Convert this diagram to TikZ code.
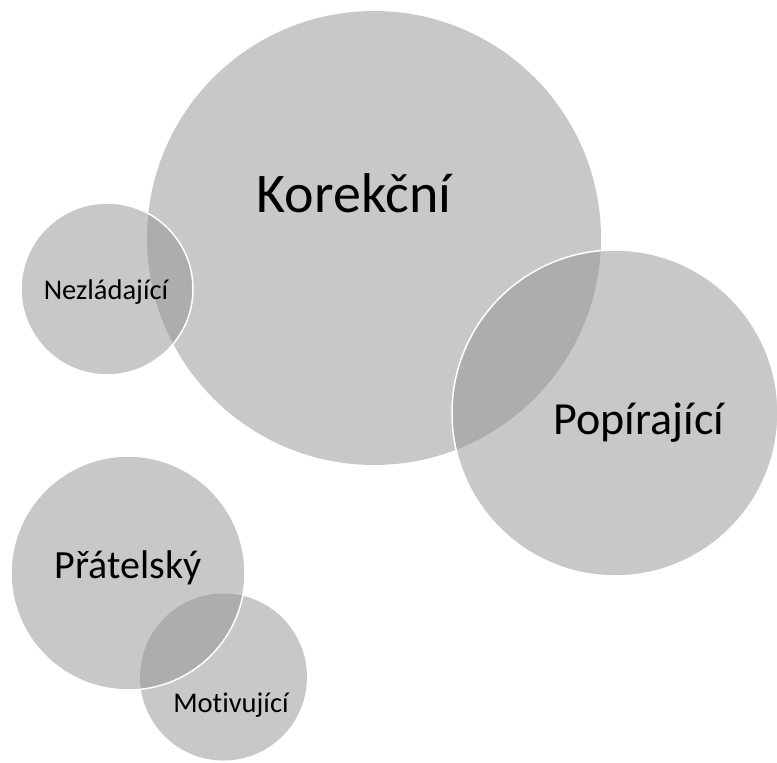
\documentclass[tikz,border=0pt]{standalone}
\usepackage{fontspec}
\setmainfont{Carlito}[Ligatures=NoCommon]
\definecolor{discgray}{RGB}{147,147,147}
\begin{document}
\begin{tikzpicture}[x=1pt,y=-1pt,
  disc/.style={circle,inner sep=0pt,fill=discgray,fill opacity=0.51,draw=none},
  rim/.style={draw=white,line width=1.5pt},
  label/.style={anchor=base,inner sep=0pt,text=black}]
  \useasboundingbox (0,0) rectangle (777,763);
  % lower layer
  \node[disc,minimum size=454pt] (kor) at (374,238) {};
  \node[disc,minimum size=167pt] (mot) at (223.5,677) {};
  % upper layer, with white rims
  \node[disc,rim,minimum size=172pt] (nez) at (107,289) {};
  \node[disc,rim,minimum size=326pt] (pop) at (615,413) {};
  \node[disc,rim,minimum size=234pt] (pra) at (128,573) {};
  % labels
  \node[label,font=\fontsize{56}{60}\selectfont] (tkor) at (354,212) {Korekční};
  \node[label,font=\fontsize{28.5}{32}\selectfont] (tnez) at (106,299) {Nezládající};
  \node[label,font=\fontsize{46}{50}\selectfont] (tpop) at (639,434) {Popírající};
  \node[label,font=\fontsize{40}{44}\selectfont] (tpra) at (128,578) {Přátelský};
  \node[label,font=\fontsize{28.5}{32}\selectfont] (tmot) at (231,712) {Motivující};
\end{tikzpicture}
\end{document}
